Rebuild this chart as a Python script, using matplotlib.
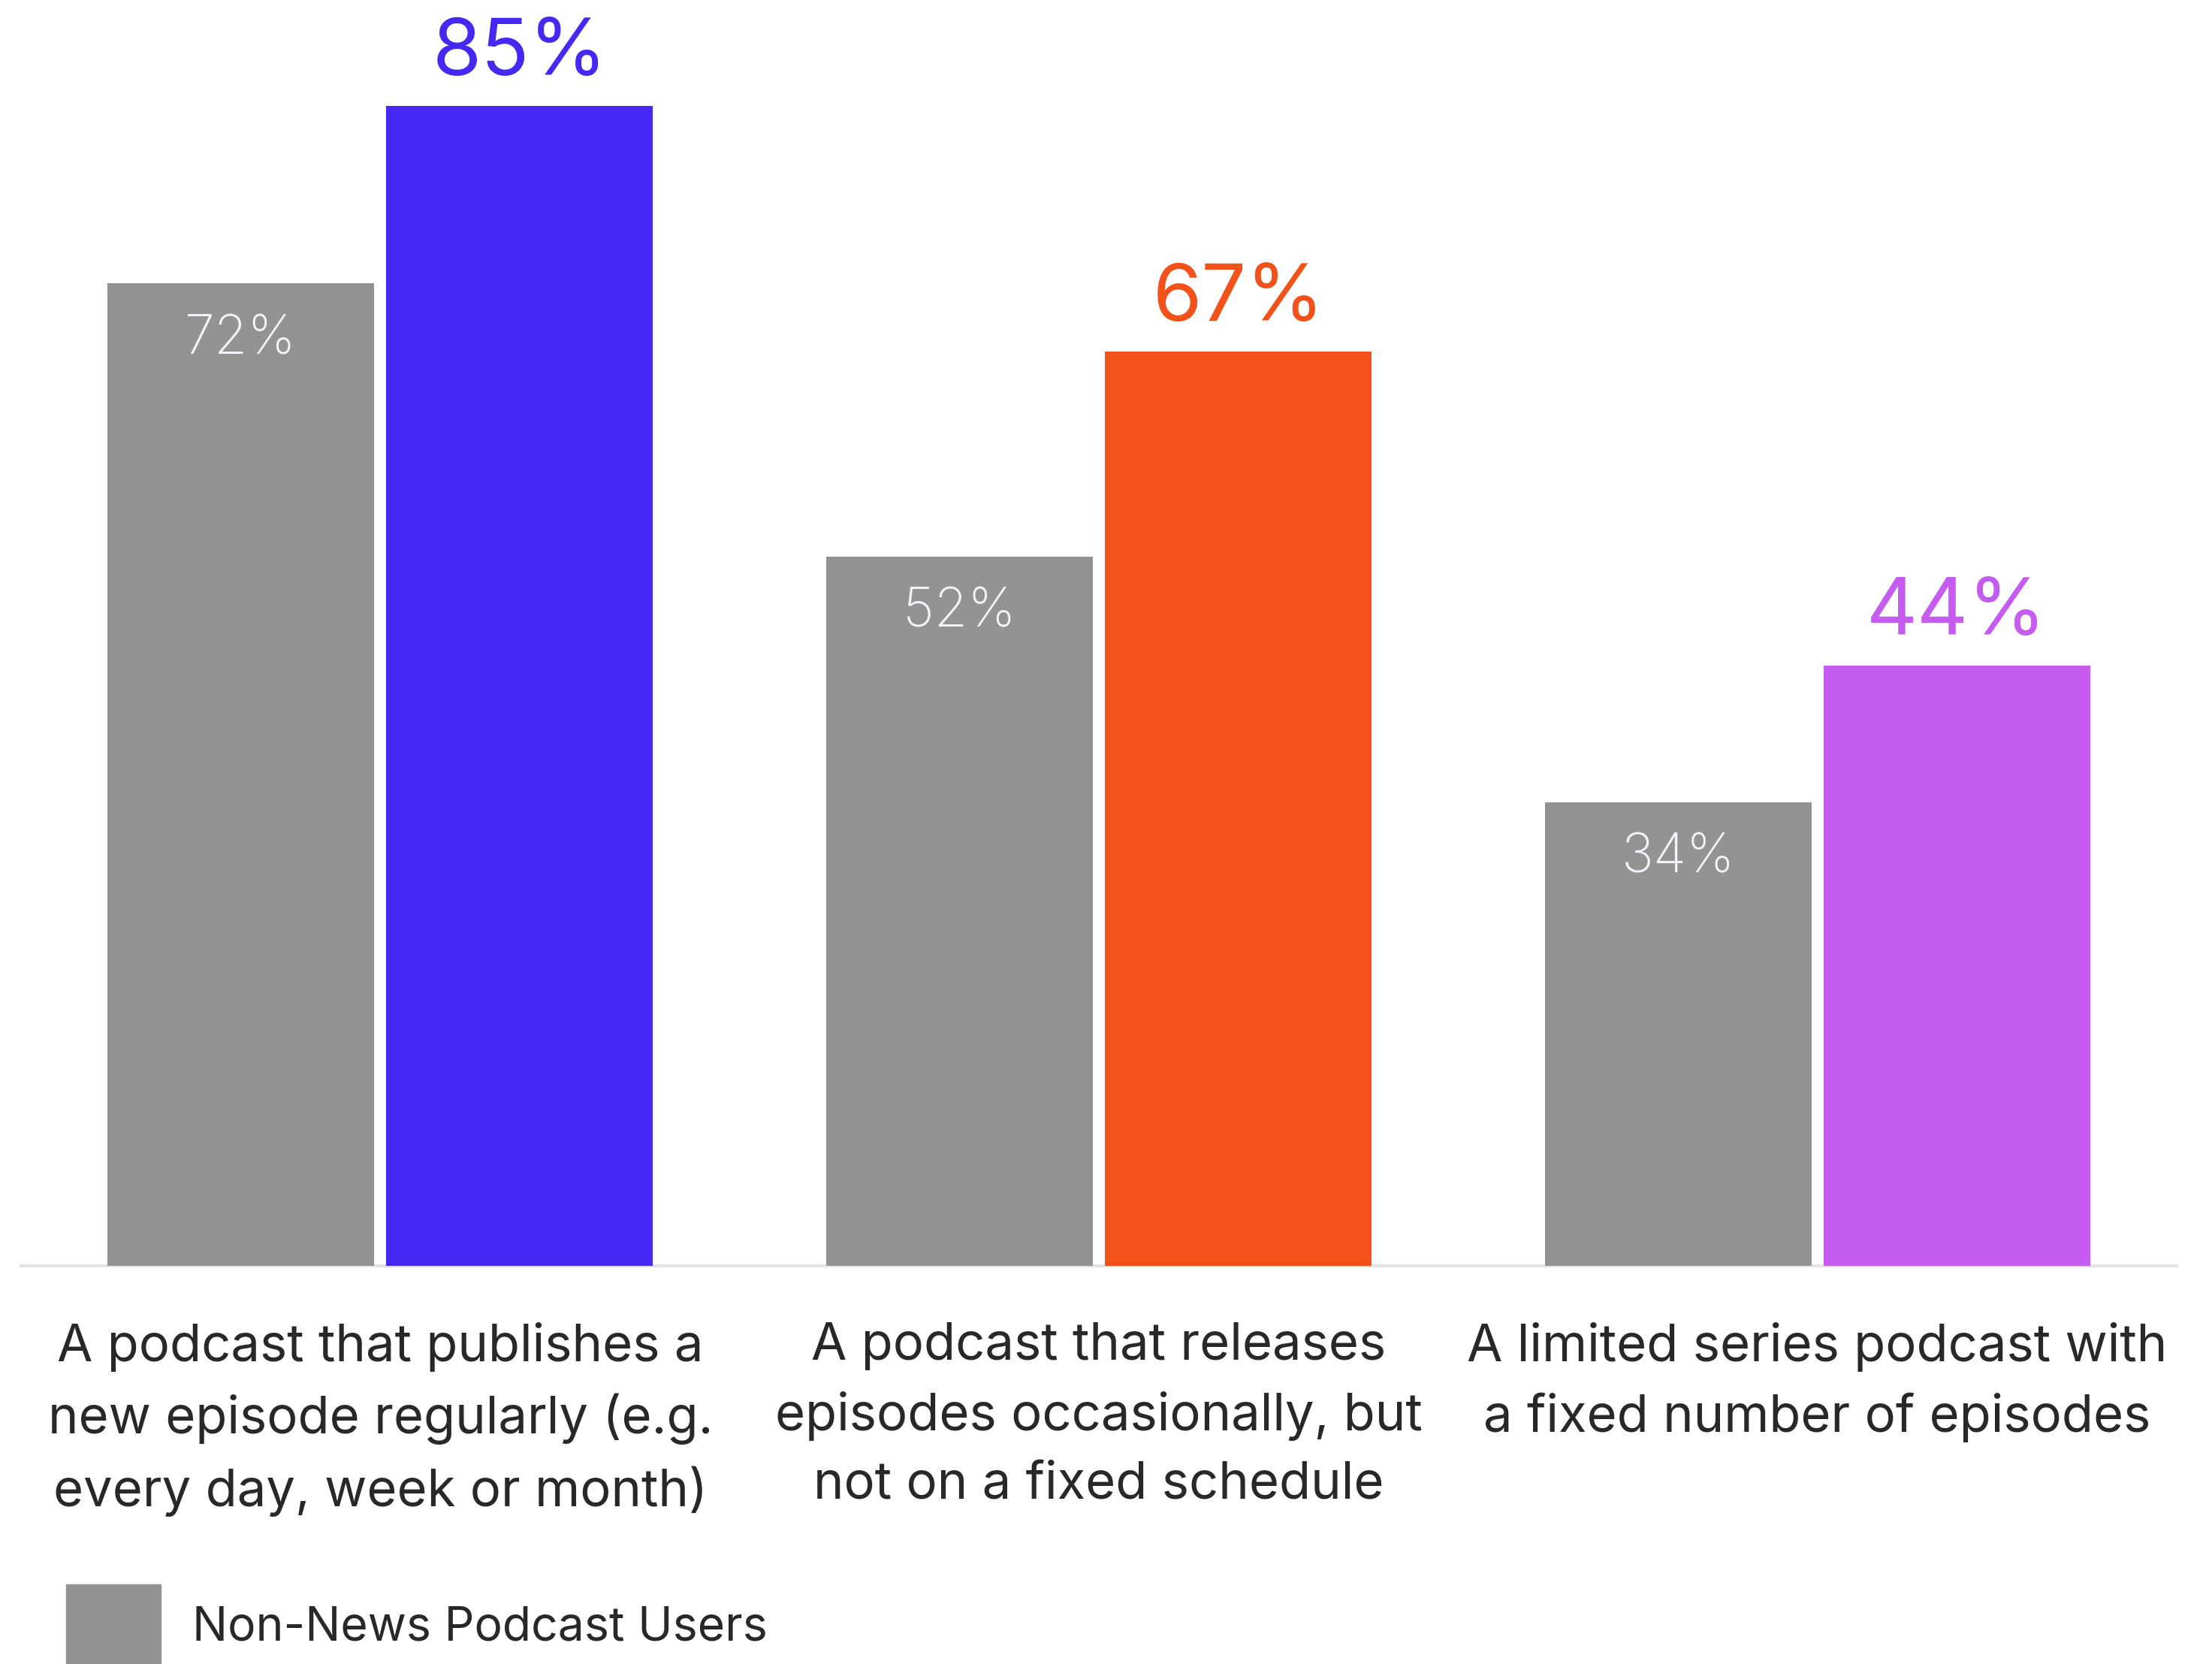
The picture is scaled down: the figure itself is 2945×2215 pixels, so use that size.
import matplotlib
matplotlib.use("Agg")
import matplotlib.pyplot as plt
from matplotlib.patches import Rectangle

plt.rcParams['font.family'] = ['Inter', 'DejaVu Sans']

categories = [
    "A podcast that publishes a\nnew episode regularly (e.g.\nevery day, week or month)",
    "A podcast that releases\nepisodes occasionally, but\nnot on a fixed schedule",
    "A limited series podcast with\na fixed number of episodes",
]
non_news = [72, 52, 34]
news = [85, 67, 44]
news_colors = ["#4529F2", "#F25219", "#C55CEF"]
grey = "#939393"
legend_label = "Non-News Podcast Users"

W, H = 2945, 2215
fig = plt.figure(figsize=(W / 100, H / 100), dpi=100)
fig.patch.set_facecolor("white")

base_px = 1685
ax = fig.add_axes([28 / W, (H - base_px) / H, (2898 - 28) / W, base_px / H])
px_per_unit = 18.16
ax.set_xlim(-0.5, 2.5)
ax.set_ylim(0, base_px / px_per_unit)
ax.axis("off")

width = 0.371
off = 0.194
xs = range(len(categories))
for i in xs:
    ax.bar(i - off, non_news[i], width, color=grey, zorder=2)
    ax.bar(i + off, news[i], width, color=news_colors[i], zorder=2)
    ax.annotate(f"{non_news[i]}%", (i - off, non_news[i]), xytext=(0, -75 * 0.72),
                textcoords="offset points", ha="center", va="center",
                fontsize=52, color="#F4F4FA", fontweight="light")
    ax.annotate(f"{news[i]}%", (i + off, news[i]), xytext=(0, 41 * 0.72),
                textcoords="offset points", ha="center", va="baseline",
                fontsize=76, color=news_colors[i])
    ax.text(i, -75 / px_per_unit, categories[i], ha="center", va="top",
            multialignment="center", fontsize=49.5, color="#282828",
            linespacing=1.53, clip_on=False)

# baseline
ax.axhline(0, color="#E3E3E3", lw=3, zorder=1, clip_on=False)

# legend
fig.patches.append(Rectangle((88 / W, 0), 126 / W, 106 / H,
                             transform=fig.transFigure, color=grey))
fig.text(256 / W, (H - 2167) / H, legend_label, ha="left", va="center",
         fontsize=45, color="#282828")

fig.savefig("out.png", dpi=100, facecolor="white")
